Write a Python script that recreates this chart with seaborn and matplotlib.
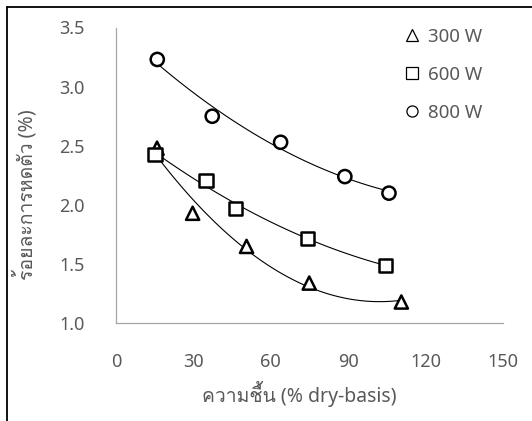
import numpy as np
import pandas as pd
import seaborn as sns
import matplotlib
matplotlib.use("Agg")
import matplotlib.pyplot as plt
from matplotlib import font_manager
from matplotlib.ft2font import FT2Font
from matplotlib.lines import Line2D

# ---- data ----
power_labels = ["300 W", "600 W", "800 W"]
moisture_300 = [15.9, 29.7, 50.6, 74.9, 110.6]
shrink_300 = [2.48, 1.93, 1.65, 1.34, 1.18]
moisture_600 = [15.1, 34.9, 46.2, 74.2, 104.4]
shrink_600 = [2.43, 2.21, 1.97, 1.72, 1.49]
moisture_800 = [16.0, 37.3, 63.8, 88.7, 105.8]
shrink_800 = [3.23, 2.75, 2.53, 2.24, 2.10]
x_ticks = [0, 30, 60, 90, 120, 150]
y_ticks = [1.0, 1.5, 2.0, 2.5, 3.0, 3.5]
x_title = "ความชื้น (% dry-basis)"
y_title = "ร้อยละการหดตัว (%)"

# ---- font with Thai coverage ----
def find_thai_font():
    seen = set()
    for f in font_manager.fontManager.ttflist:
        if f.fname in seen:
            continue
        seen.add(f.fname)
        try:
            cm = FT2Font(f.fname).get_charmap()
            if 0x0E01 in cm and 0x0E49 in cm and 0x0E23 in cm:
                return f.name
        except Exception:
            pass
    return None

sns.set_theme(style="white")
thai = find_thai_font()
families = ["Noto Sans"]
if thai:
    families = families + [thai]
families.append("DejaVu Sans")
plt.rcParams["font.family"] = families

txt_color = "#595959"
axis_color = "#a6a6a6"
tick_fs = 13
legend_fs = 13.5
title_fs = 14

df = pd.concat([
    pd.DataFrame({"moisture": moisture_300, "shrink": shrink_300, "power": power_labels[0]}),
    pd.DataFrame({"moisture": moisture_600, "shrink": shrink_600, "power": power_labels[1]}),
    pd.DataFrame({"moisture": moisture_800, "shrink": shrink_800, "power": power_labels[2]}),
], ignore_index=True)
markers = {"300 W": "^", "600 W": "s", "800 W": "o"}

fig = plt.figure(figsize=(5.32, 4.21), dpi=100)
ax = fig.add_axes([116 / 532, 1 - 323.3 / 421, 387 / 532, 295.8 / 421])

# polynomial trend lines (order 2), like spreadsheet trendlines
for p in power_labels:
    sub = df[df["power"] == p]
    sns.regplot(data=sub, x="moisture", y="shrink", order=2, ci=None,
                scatter=False, truncate=True, ax=ax,
                line_kws=dict(color="black", lw=0.8))

sns.scatterplot(data=df, x="moisture", y="shrink", style="power",
                markers=markers, s=90, facecolor="white", edgecolor="black",
                linewidth=1.8, legend=False, ax=ax, zorder=3)

ax.set_xlim(0, 150)
ax.set_ylim(1.0, 3.5)
ax.set_xticks(x_ticks)
ax.set_yticks(y_ticks)
ax.set_yticklabels([f"{v:.1f}" for v in y_ticks])
for s in ["top", "right"]:
    ax.spines[s].set_visible(False)
for s in ["left", "bottom"]:
    ax.spines[s].set_color(axis_color)
    ax.spines[s].set_linewidth(0.9)
ax.tick_params(axis="both", which="major", direction="out", length=7.5,
               width=0.9, color=axis_color, labelcolor=txt_color,
               labelsize=tick_fs)
ax.tick_params(axis="x", pad=14)
ax.tick_params(axis="y", pad=15)

ax.set_xlabel(x_title, fontsize=title_fs, color=txt_color)
ax.set_ylabel(y_title, fontsize=title_fs, color=txt_color)
ax.xaxis.label.set_verticalalignment("center")
ax.yaxis.label.set_verticalalignment("center")
ax.xaxis.set_label_coords((299 - 116) / 387, (323.3 - 394) / 295.8)
ax.yaxis.set_label_coords((25 - 116) / 387, (323.3 - 195) / 295.8)

handles = [Line2D([], [], linestyle="none", marker=markers[p], markersize=8,
                  markerfacecolor="white", markeredgecolor="black",
                  markeredgewidth=0.9) for p in power_labels]
leg = ax.legend(handles, power_labels, loc="upper left",
                bbox_to_anchor=(403 / 532, 1 - 27.5 / 421),
                bbox_transform=fig.transFigure, frameon=False,
                fontsize=legend_fs, handlelength=0.95, handletextpad=0.4,
                labelspacing=1.08, borderpad=0, borderaxespad=0)
for t in leg.get_texts():
    t.set_color(txt_color)

# outer frame (left and top edges visible in the reference)
fig.add_artist(Line2D([7 / 532, 7 / 532], [0, 1 - 7 / 421],
                      transform=fig.transFigure, color="black", lw=1.3))
fig.add_artist(Line2D([7 / 532, 1], [1 - 7 / 421, 1 - 7 / 421],
                      transform=fig.transFigure, color="black", lw=1.3))

fig.savefig("out.png", dpi=100)
